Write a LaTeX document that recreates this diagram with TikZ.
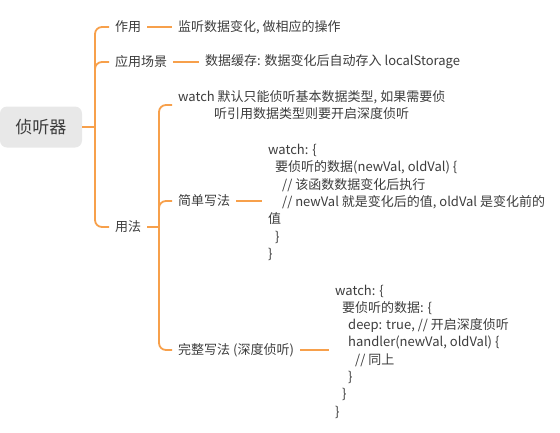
\documentclass[tikz,border=0pt]{standalone}
\usepackage{fontspec}
\setmainfont{Noto Sans CJK SC}
\definecolor{branch}{HTML}{F7A04B}
\definecolor{txt}{HTML}{3C3C3C}
\definecolor{rootfill}{HTML}{E8E8E8}
\newcommand{\ind}[1]{\hspace*{#1pt}}
\tikzset{
  conn/.style={draw=branch, line width=1.8pt, rounded corners=7pt},
  topic/.style={anchor=west, inner xsep=6pt, inner ysep=2pt, text=txt, font=\fontsize{13}{16.5}\selectfont},
  codebox/.style={topic, align=left, font=\fontsize{13}{17.3}\selectfont},
  rootbox/.style={fill=rootfill, rounded corners=7pt, minimum width=82pt, minimum height=41pt, text=txt, font=\fontsize{17}{20}\selectfont, inner sep=0pt}
}
\begin{document}
\begin{tikzpicture}[x=1pt,y=-1pt]
\useasboundingbox (0,0) rectangle (560,432);
\node[rootbox] (root) at (41,127) {侦听器};
\coordinate (t1) at (95,127);
\node[topic] (zy) at (109,27) {作用};
\node[topic] (zyl) at (172,27) {监听数据变化, 做相应的操作};
\node[topic] (cj) at (109,62) {应用场景};
\node[topic] (cjl) at (199,62) {数据缓存: 数据变化后自动存入 localStorage};
\node[topic] (yf) at (109,227) {用法};
\coordinate (t2) at (159,227);
\node[topic, align=center] (w1) at (172,105) {watch 默认只能侦听基本数据类型, 如果需要侦\\听引用数据类型则要开启深度侦听};
\node[topic] (jd) at (172,201) {简单写法};
\node[codebox] (c1) at (262,202.5) {watch: \{\\\ind{7}要侦听的数据(newVal, oldVal) \{\\\ind{14}// 该函数数据变化后执行\\\ind{14}// newVal 就是变化后的值, oldVal 是变化前的\\值\\\ind{7}\}\\\}};
\node[topic] (wz) at (172,350) {完整写法 (深度侦听)};
\node[codebox] (c2) at (329,351.5) {watch: \{\\\ind{7}要侦听的数据: \{\\\ind{13}deep: true, // 开启深度侦听\\\ind{13}handler(newVal, oldVal) \{\\\ind{20}// 同上\\\ind{13}\}\\\ind{7}\}\\\}};
% connectors
\draw[conn] (root.east) -- (t1);
\draw[conn] (t1) |- (zy.west);
\draw[conn] (t1) |- (cj.west);
\draw[conn] (t1) |- (yf.west);
\draw[conn] (zy.east) -- (zyl.west);
\draw[conn] (cj.east) -- (cjl.west);
\draw[conn] (yf.east) -- (t2);
\draw[conn] (t2) |- (w1.west);
\draw[conn] (t2) |- (jd.west);
\draw[conn] (t2) |- (wz.west);
\draw[conn] (jd.east) -- (jd.east -| c1.west);
\draw[conn] (wz.east) -- (wz.east -| c2.west);
\end{tikzpicture}
\end{document}
